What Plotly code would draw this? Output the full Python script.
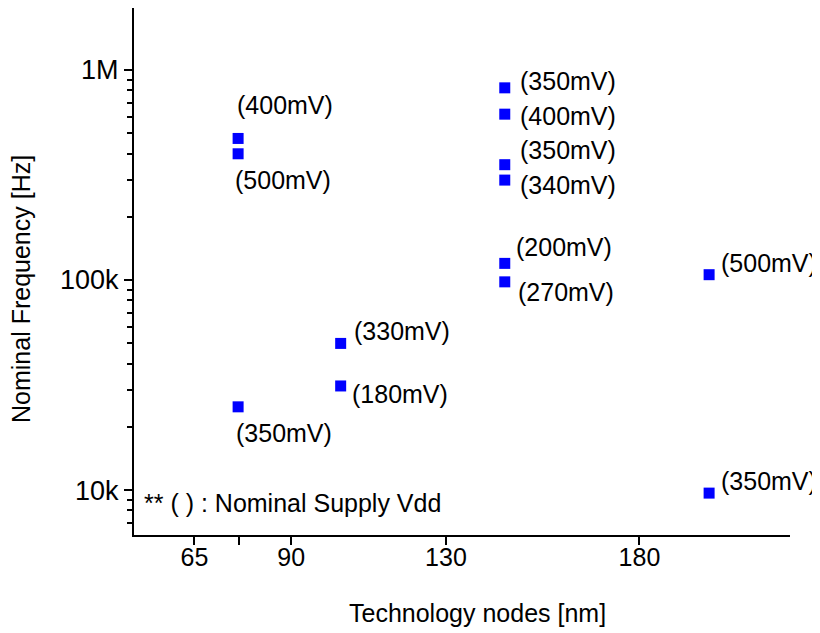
import math
import plotly.graph_objects as go

# Data
tech_node = [76.3, 76.3, 76.3, 102.8, 102.8, 145.2, 145.2, 145.2, 145.2, 145.2, 145.2, 198.0, 198.0]
frequency_hz = [472e3, 399e3, 24.9e3, 49.9e3, 31.3e3, 822e3, 616e3, 354e3, 299e3, 120e3, 98e3, 106e3, 9.67e3]
supply_labels = ["(400mV)", "(500mV)", "(350mV)", "(330mV)", "(180mV)",
                 "(350mV)", "(400mV)", "(350mV)", "(340mV)", "(200mV)", "(270mV)",
                 "(500mV)", "(350mV)"]

x_tick_vals = [65, 76.5, 90, 130, 180]
x_tick_text = ["65", "", "90", "130", "180"]
y_tick_vals = [1e4, 1e5, 1e6]
y_tick_text = ["10k", "100k", "1M"]
y_minor_vals = [m * 10 ** e for e in (3, 4, 5, 6) for m in range(2, 10)]

# label placement (pixel offsets of text left edge / text centre from the marker)
label_dx = [-3, -5, -4, 11, 9, 13.5, 13.5, 13.5, 13.5, 9, 11, 10, 10]
label_dy = [-33, 26, 26, -12.5, 8, -7, 1.6, -14.5, 4.8, -16, 10, -11.7, -12.5]

FONT = "Liberation Sans, Arial, sans-serif"

# the page adds an 8px body margin, so the figure is 8px smaller than the window
W, H = 812, 625
ML, MR, MT, MB = 126, 30, 0, 98

fig = go.Figure()
fig.add_trace(go.Scatter(
    x=tech_node, y=frequency_hz, mode="markers",
    marker=dict(symbol="square", size=11, color="#0000FF", line=dict(width=0)),
    showlegend=False, hoverinfo="x+y",
))

for x, y, t, dx, dy in zip(tech_node, frequency_hz, supply_labels, label_dx, label_dy):
    fig.add_annotation(x=x, y=math.log10(y), xref="x", yref="y", text=t, showarrow=False,
                       xanchor="left", yanchor="middle", xshift=dx, yshift=-dy,
                       font=dict(family=FONT, size=25, color="black"))

fig.add_annotation(x=0.012, y=0.0607, xref="paper", yref="paper",
                   text="** ( ) : Nominal Supply Vdd", showarrow=False,
                   xanchor="left", yanchor="middle",
                   font=dict(family=FONT, size=25, color="black"))

# axis titles
fig.add_annotation(x=0.5, y=0, xref="paper", yref="paper", text="Technology nodes [nm]",
                   showarrow=False, xanchor="center", yanchor="middle", xshift=15, yshift=-78,
                   font=dict(family=FONT, size=25, color="black"))
fig.add_annotation(x=0, y=0.4668, xref="paper", yref="paper", text="Nominal Frequency [Hz]",
                   showarrow=False, textangle=-90, xanchor="center", yanchor="middle", xshift=-113,
                   font=dict(family=FONT, size=25, color="black"))

fig.update_layout(
    width=W, height=H,
    margin=dict(l=ML, r=MR, t=MT, b=MB, pad=0, autoexpand=False),
    paper_bgcolor="white", plot_bgcolor="white",
    font=dict(family=FONT, color="black"),
    xaxis=dict(
        range=[49.4, 218.9], tickmode="array", tickvals=x_tick_vals, ticktext=x_tick_text,
        ticks="outside", ticklen=8, tickwidth=1.5, tickcolor="black", automargin=False,
        ticklabelstandoff=-9,
        showline=True, linecolor="black", linewidth=2, showgrid=False, zeroline=False,
        tickfont=dict(family=FONT, size=25, color="black"),
    ),
    yaxis=dict(
        type="log", range=[3.786, 6.295], tickmode="array", tickvals=y_tick_vals, ticktext=y_tick_text,
        ticks="outside", ticklen=8, tickwidth=1.5, tickcolor="black", automargin=False,
        minor=dict(tickmode="array", tickvals=y_minor_vals, ticks="outside", ticklen=5,
                   tickwidth=1.5, tickcolor="black", showgrid=False),
        showline=True, linecolor="black", linewidth=2, showgrid=False, zeroline=False,
        tickfont=dict(family=FONT, size=27, color="black"),
    ),
)

fig.write_html("out.html")
